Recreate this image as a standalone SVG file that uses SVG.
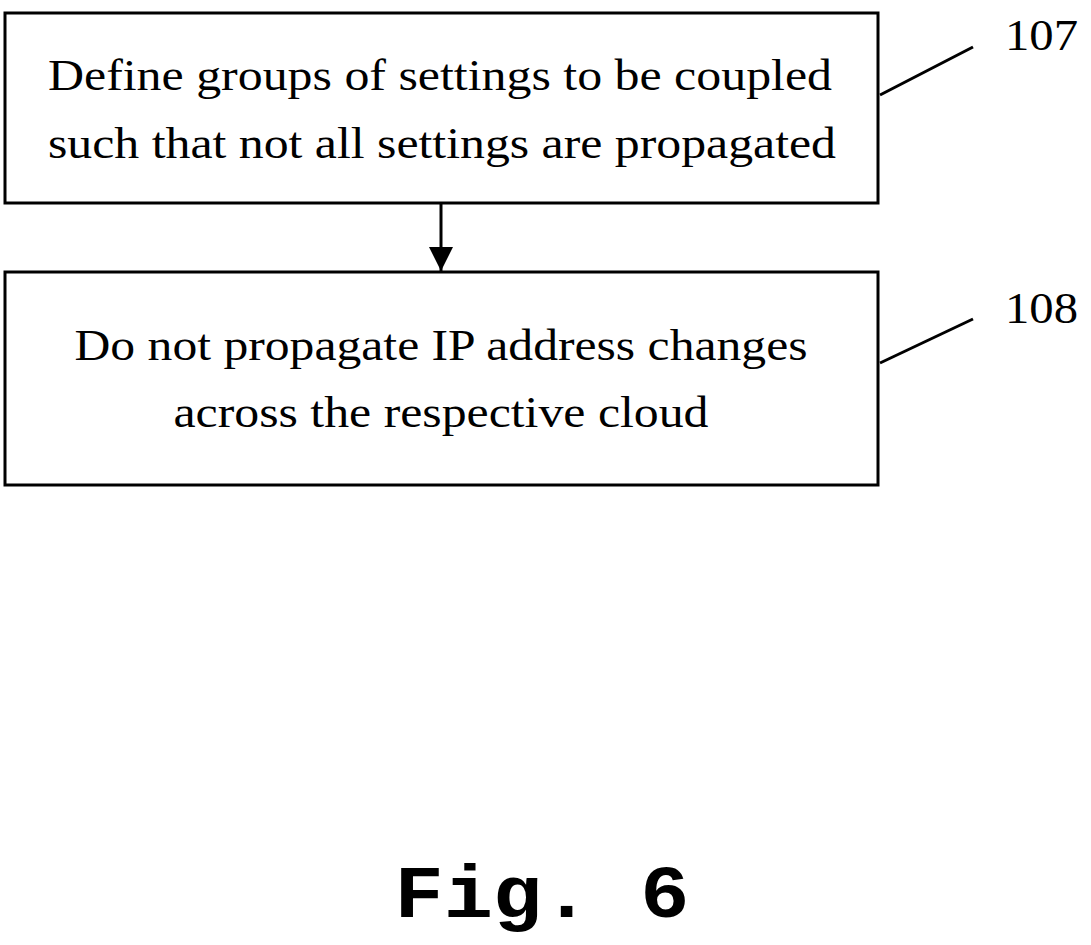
<svg xmlns="http://www.w3.org/2000/svg" width="1091" height="945" viewBox="0 0 1091 945">
<style>
.box{fill:#fff;stroke:#000;stroke-width:3}
.t{font-family:"Liberation Serif",serif;font-size:44px;text-anchor:middle}
.l{font-family:"Liberation Serif",serif;font-size:44px}
.ln{stroke:#000;stroke-width:3;fill:none}
</style>
<defs>
<marker id="ah" viewBox="0 0 10 10" markerWidth="26" markerHeight="24" refX="10" refY="5" orient="auto" markerUnits="userSpaceOnUse"><path d="M0,0 L10,5 L0,10z"/></marker></defs>
<rect width="1091" height="945" fill="#fff"/>
<g id="n107"><rect class="box" x="5" y="13" width="873" height="190"/>
<text class="t" x="440" y="90" textLength="784" lengthAdjust="spacingAndGlyphs">Define groups of settings to be coupled</text>
<text class="t" x="442" y="158" textLength="788" lengthAdjust="spacingAndGlyphs">such that not all settings are propagated</text></g>
<g id="n108"><rect class="box" x="5" y="272" width="873" height="213"/>
<text class="t" x="441" y="360" textLength="733" lengthAdjust="spacingAndGlyphs">Do not propagate IP address changes</text>
<text class="t" x="441" y="427" textLength="535" lengthAdjust="spacingAndGlyphs">across the respective cloud</text></g>
<g id="connectors">
<line class="ln" x1="441" y1="203" x2="441" y2="271" marker-end="url(#ah)"/>
<line class="ln" x1="880" y1="95" x2="973" y2="47"/>
<line class="ln" x1="880" y1="363" x2="973" y2="319"/>
</g>
<text class="l" x="1005" y="50" textLength="73" lengthAdjust="spacingAndGlyphs">107</text>
<text class="l" x="1005" y="323" textLength="73" lengthAdjust="spacingAndGlyphs">108</text>
<text x="542" y="917" font-family="'Liberation Mono',monospace" font-weight="bold" font-size="74" text-anchor="middle" textLength="295" lengthAdjust="spacingAndGlyphs">Fig. 6</text>
</svg>
